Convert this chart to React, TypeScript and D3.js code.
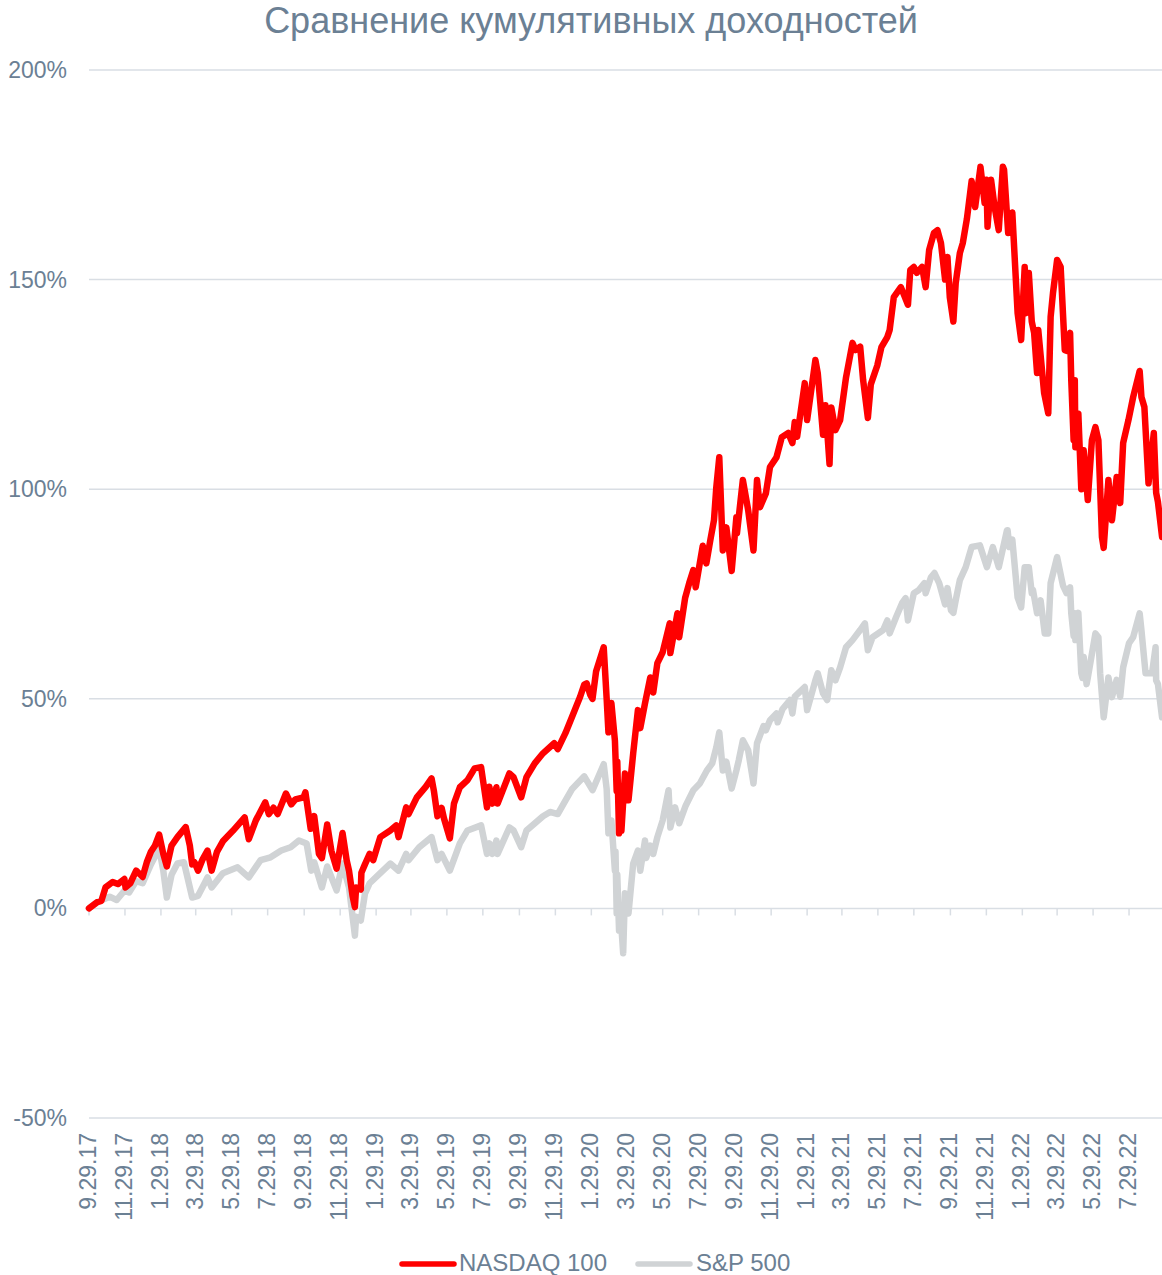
import React from "react";
import * as d3 from "d3";

// ---------- DATA ----------
const TITLE = "Сравнение кумулятивных доходностей";
const SERIES_NAMES = ["NASDAQ 100", "S&P 500"];
const Y_TICKS = [-50, 0, 50, 100, 150, 200];
const X_TICK_LABELS = [
  "9.29.17", "11.29.17", "1.29.18", "3.29.18", "5.29.18", "7.29.18", "9.29.18", "11.29.18",
  "1.29.19", "3.29.19", "5.29.19", "7.29.19", "9.29.19", "11.29.19", "1.29.20", "3.29.20",
  "5.29.20", "7.29.20", "9.29.20", "11.29.20", "1.29.21", "3.29.21", "5.29.21", "7.29.21",
  "9.29.21", "11.29.21", "1.29.22", "3.29.22", "5.29.22", "7.29.22",
];
const X_DOMAIN = ["2017-09-29", "2022-09-29"];

const NDX_DATES = [
  "2017-09-29","2017-10-13","2017-10-20","2017-10-27","2017-11-08","2017-11-17","2017-11-28","2017-11-30",
  "2017-12-08","2017-12-18","2017-12-29","2018-01-05","2018-01-12","2018-01-19","2018-01-26","2018-02-02",
  "2018-02-08","2018-02-16","2018-02-26","2018-03-12","2018-03-19","2018-03-23","2018-03-27","2018-04-02",
  "2018-04-09","2018-04-18","2018-04-25","2018-05-04","2018-05-14","2018-05-31","2018-06-20","2018-06-27",
  "2018-07-09","2018-07-25","2018-07-31","2018-08-08","2018-08-15","2018-08-29","2018-09-07","2018-09-14",
  "2018-09-28","2018-10-01","2018-10-10","2018-10-16","2018-10-24","2018-10-29","2018-11-07","2018-11-14",
  "2018-11-23","2018-12-03","2018-12-10","2018-12-14","2018-12-20","2018-12-24","2018-12-26","2019-01-03",
  "2019-01-04","2019-01-10","2019-01-18","2019-01-24","2019-02-05","2019-02-22","2019-03-04","2019-03-08",
  "2019-03-21","2019-03-25","2019-04-08","2019-04-23","2019-05-03","2019-05-07","2019-05-13","2019-05-20",
  "2019-05-24","2019-06-03","2019-06-10","2019-06-20","2019-07-03","2019-07-15","2019-07-26","2019-08-05",
  "2019-08-09","2019-08-14","2019-08-21","2019-08-23","2019-09-12","2019-09-19","2019-10-02","2019-10-11",
  "2019-10-25","2019-11-08","2019-11-27","2019-12-03","2019-12-16","2019-12-27","2020-01-10","2020-01-17",
  "2020-01-21","2020-01-27","2020-01-31","2020-02-06","2020-02-19","2020-02-24","2020-02-27","2020-03-03",
  "2020-03-09","2020-03-12","2020-03-13","2020-03-16","2020-03-17","2020-03-20","2020-03-26","2020-04-01",
  "2020-04-09","2020-04-17","2020-04-21","2020-04-29","2020-05-08","2020-05-13","2020-05-20","2020-05-29",
  "2020-06-10","2020-06-11","2020-06-23","2020-06-26","2020-07-06","2020-07-13","2020-07-20","2020-07-24",
  "2020-07-31","2020-08-05","2020-08-11","2020-08-18","2020-08-24","2020-08-28","2020-09-02","2020-09-08",
  "2020-09-14","2020-09-23","2020-10-01","2020-10-02","2020-10-12","2020-10-21","2020-10-30","2020-11-05",
  "2020-11-10","2020-11-20","2020-11-27","2020-12-08","2020-12-17","2020-12-28","2021-01-04","2021-01-08",
  "2021-01-12","2021-01-25","2021-01-29","2021-02-12","2021-02-16","2021-02-25","2021-03-01","2021-03-08",
  "2021-03-11","2021-03-18","2021-03-26","2021-04-05","2021-04-16","2021-04-21","2021-04-29","2021-05-04",
  "2021-05-12","2021-05-17","2021-05-28","2021-06-04","2021-06-14","2021-06-18","2021-06-25","2021-07-07",
  "2021-07-19","2021-07-23","2021-07-29","2021-08-03","2021-08-12","2021-08-18","2021-08-24","2021-09-01",
  "2021-09-07","2021-09-13","2021-09-20","2021-09-24","2021-09-28","2021-10-04","2021-10-08","2021-10-15",
  "2021-10-20","2021-10-27","2021-11-04","2021-11-10","2021-11-19","2021-11-26","2021-11-29","2021-12-01",
  "2021-12-07","2021-12-13","2021-12-20","2021-12-27","2021-12-29","2022-01-05","2022-01-12","2022-01-21",
  "2022-01-27","2022-02-02","2022-02-04","2022-02-09","2022-02-14","2022-02-18","2022-02-23","2022-02-25",
  "2022-03-07","2022-03-14","2022-03-18","2022-03-22","2022-03-29","2022-04-04","2022-04-11","2022-04-14",
  "2022-04-20","2022-04-22","2022-04-26","2022-04-28","2022-04-29","2022-05-04","2022-05-09","2022-05-13",
  "2022-05-20","2022-05-27","2022-06-02","2022-06-07","2022-06-13","2022-06-16","2022-06-24","2022-06-30",
  "2022-07-08","2022-07-14","2022-07-19","2022-07-28","2022-08-05","2022-08-16","2022-08-19","2022-08-24",
  "2022-08-31","2022-09-09","2022-09-13","2022-09-16","2022-09-23",
];
const NDX_VALUES = [
  0,1.5,1.8,5.0,6.3,5.8,7.0,5.0,
  6.0,9.0,7.5,11.0,13.5,15.0,17.6,13.0,
  10.0,15.0,17.0,19.4,15.0,10.5,11.0,9.0,
  11.5,13.8,9.0,13.5,16.0,18.5,21.7,16.5,
  21.0,25.3,22.5,24.0,22.5,27.4,24.8,26.0,
  26.5,27.7,19.0,22.0,13.0,12.0,20.0,13.8,
  9.5,18.0,11.5,9.0,3.0,0.3,5.0,4.5,
  8.5,10.5,13.0,11.5,17.0,18.6,19.8,17.0,
  24.1,22.5,26.5,29.0,31.0,28.0,22.0,24.0,
  21.5,16.7,25.0,28.9,30.6,33.4,33.7,24.1,
  29.0,25.0,28.9,25.0,32.2,31.3,26.5,31.3,
  34.6,37.0,39.4,38.0,41.8,45.6,50.5,53.4,
  53.7,51.0,50.0,56.5,62.3,50.0,42.0,49.0,
  40.0,28.0,35.0,17.9,24.0,18.5,32.2,25.8,
  37.0,47.3,43.0,48.9,55.1,51.5,58.5,61.1,
  68.0,60.9,70.4,64.7,74.0,77.6,80.7,76.6,
  82.4,86.5,82.3,88.0,92.6,100.5,107.6,85.4,
  90.9,80.5,93.3,89.5,102.2,95.0,85.4,102.2,
  95.7,99.0,105.3,107.6,112.4,113.4,111.0,116.0,
  112.5,125.3,116.5,130.8,127.7,113.0,120.0,106.0,
  119.5,114.1,116.5,126.7,134.9,133.2,134.0,126.0,
  117.0,125.0,129.5,133.9,136.3,138.0,145.8,148.2,
  144.0,152.3,153.0,151.6,153.0,148.2,157.1,161.1,
  161.8,158.7,150.0,155.4,145.8,140.0,149.2,156.3,
  158.7,164.5,173.5,167.3,176.9,168.3,173.8,162.6,
  173.8,167.3,161.8,176.9,176.2,161.1,166.0,142.0,
  135.6,153.0,142.0,151.6,140.0,137.3,127.7,138.0,
  122.9,118.1,141.1,146.8,154.7,153.0,133.2,133.0,
  137.3,126.0,111.7,126.0,110.0,118.0,100.0,109.3,
  97.4,111.7,114.8,111.7,88.6,86.0,102.2,92.6,
  102.9,96.7,111.0,116.5,122.0,128.2,122.0,119.6,
  101.4,113.4,99.1,97.0,88.6,
];

const SP_DATES = [
  "2017-09-29","2017-10-13","2017-11-03","2017-11-15","2017-11-28","2017-12-06","2017-12-18","2017-12-29",
  "2018-01-12","2018-01-26","2018-02-02","2018-02-08","2018-02-16","2018-02-26","2018-03-09","2018-03-23",
  "2018-04-02","2018-04-13","2018-04-18","2018-04-25","2018-05-14","2018-06-08","2018-06-27","2018-07-17",
  "2018-08-03","2018-08-21","2018-09-06","2018-09-20","2018-10-03","2018-10-11","2018-10-16","2018-10-29",
  "2018-11-07","2018-11-23","2018-12-03","2018-12-14","2018-12-24","2018-12-26","2019-01-03","2019-01-10",
  "2019-01-18","2019-02-05","2019-02-22","2019-03-08","2019-03-21","2019-03-25","2019-04-12","2019-05-03",
  "2019-05-13","2019-05-20","2019-06-03","2019-06-20","2019-07-03","2019-07-26","2019-08-05","2019-08-09",
  "2019-08-14","2019-08-21","2019-08-23","2019-09-12","2019-09-19","2019-10-02","2019-10-11","2019-11-08",
  "2019-11-20","2019-12-03","2019-12-16","2019-12-27","2020-01-17","2020-01-31","2020-02-19","2020-02-24",
  "2020-02-27","2020-03-03","2020-03-09","2020-03-10","2020-03-12","2020-03-13","2020-03-16","2020-03-17",
  "2020-03-20","2020-03-23","2020-03-26","2020-04-01","2020-04-09","2020-04-17","2020-04-21","2020-04-29",
  "2020-05-01","2020-05-08","2020-05-13","2020-05-20","2020-05-29","2020-06-08","2020-06-11","2020-06-19",
  "2020-06-26","2020-07-07","2020-07-20","2020-07-31","2020-08-12","2020-08-21","2020-08-28","2020-09-02",
  "2020-09-08","2020-09-14","2020-09-23","2020-10-01","2020-10-05","2020-10-12","2020-10-21","2020-10-30",
  "2020-11-05","2020-11-16","2020-11-20","2020-11-27","2020-12-08","2020-12-10","2020-12-18","2020-12-31",
  "2021-01-04","2021-01-08","2021-01-25","2021-01-29","2021-02-12","2021-02-16","2021-02-25","2021-03-04",
  "2021-03-11","2021-03-18","2021-03-26","2021-04-05","2021-04-16","2021-04-29","2021-05-07","2021-05-12",
  "2021-05-20","2021-06-07","2021-06-14","2021-06-18","2021-06-29","2021-07-09","2021-07-15","2021-07-19",
  "2021-07-29","2021-08-06","2021-08-16","2021-08-18","2021-08-27","2021-09-02","2021-09-10","2021-09-20",
  "2021-09-24","2021-09-30","2021-10-04","2021-10-08","2021-10-15","2021-10-25","2021-11-04","2021-11-18",
  "2021-11-30","2021-12-10","2021-12-20","2022-01-03","2022-01-04","2022-01-07","2022-01-12","2022-01-21",
  "2022-01-27","2022-02-02","2022-02-09","2022-02-14","2022-02-16","2022-02-23","2022-03-01","2022-03-08",
  "2022-03-14","2022-03-18","2022-03-29","2022-04-06","2022-04-08","2022-04-14","2022-04-20","2022-04-22",
  "2022-04-26","2022-04-28","2022-04-29","2022-05-04","2022-05-09","2022-05-11","2022-05-13","2022-05-18",
  "2022-05-20","2022-06-02","2022-06-07","2022-06-10","2022-06-16","2022-06-24","2022-06-30","2022-07-08",
  "2022-07-14","2022-07-19","2022-07-29","2022-08-05","2022-08-16","2022-08-19","2022-08-26","2022-09-06",
  "2022-09-12","2022-09-13","2022-09-16","2022-09-23",
];
const SP_VALUES = [
  0,1.5,2.8,2.0,4.2,3.8,6.5,6.0,
  10.5,14.3,9.0,2.6,8.0,10.7,11.0,2.6,
  3.0,6.0,7.4,5.0,8.4,9.8,7.4,11.5,
  12.2,13.8,14.6,16.2,15.5,9.0,11.0,5.0,
  10.0,4.3,10.7,5.0,-6.5,-2.0,-2.9,3.5,
  6.0,8.4,10.7,9.0,13.0,11.5,14.6,17.0,
  11.5,13.0,9.0,15.5,18.6,19.8,13.0,15.5,
  13.0,16.2,13.0,19.3,18.6,14.6,18.6,22.0,
  23.0,22.5,25.7,28.4,31.5,28.2,34.4,28.5,
  17.9,21.0,9.0,13.5,-1.2,8.0,-5.3,0.5,
  -4.5,-10.7,3.6,-1.2,10.7,13.8,9.0,16.2,
  12.0,15.0,13.0,17.0,21.0,28.2,19.3,24.1,
  20.3,24.5,28.2,29.8,32.9,34.6,38.4,42.0,
  32.9,35.0,28.6,32.9,35.3,40.1,37.7,29.8,
  39.4,43.5,42.5,44.9,46.5,44.4,47.5,49.7,
  46.5,50.5,52.8,47.3,54.4,56.1,51.3,49.7,
  56.8,54.4,57.5,62.3,64.0,66.4,68.0,61.6,
  64.7,66.4,68.7,65.6,69.5,72.8,74.0,68.7,
  75.2,75.9,77.6,75.2,79.0,80.0,77.6,72.5,
  76.4,71.1,70.5,73.5,78.3,81.4,86.2,86.6,
  81.4,86.2,81.4,90.2,90.2,86.2,88.0,74.2,
  71.8,81.4,81.4,75.2,76.0,70.4,73.5,65.6,
  65.6,77.6,83.8,78.3,77.0,75.2,76.6,70.4,
  65.0,70.4,64.0,70.5,56.1,55.0,60.0,53.5,
  55.0,65.6,64.7,56.1,45.6,55.1,50.4,54.5,
  50.5,57.5,63.3,64.7,70.4,66.4,56.1,56.1,
  62.3,54.4,53.5,45.6,
];

// ---------- STYLE ----------
const W = 1162;
const H = 1275;
const PLOT_LEFT = 89;
const PLOT_RIGHT = 1165.6;
const PLOT_TOP = 70;
const PLOT_BOTTOM = 1118;
const TEXT_COLOR = "#6b8094";
const GRID_COLOR = "#d9dee4";
const RED = "#ff0000";
const GRAY = "#d0d3d5";
const FONT = "'Liberation Sans', Arial, sans-serif";

const parse = d3.timeParse("%Y-%m-%d");

export default function App() {
  const x = d3
    .scaleTime()
    .domain(X_DOMAIN.map((d) => parse(d) as Date))
    .range([PLOT_LEFT, PLOT_RIGHT]);
  const y = d3.scaleLinear().domain([-50, 200]).range([PLOT_BOTTOM, PLOT_TOP]);

  const ndx = NDX_DATES.map((d, i) => ({ date: parse(d) as Date, v: NDX_VALUES[i] }));
  const sp = SP_DATES.map((d, i) => ({ date: parse(d) as Date, v: SP_VALUES[i] }));

  const line = d3
    .line<{ date: Date; v: number }>()
    .x((d) => x(d.date))
    .y((d) => y(d.v));

  const tickDates = X_TICK_LABELS.map((s) => {
    const [m, dd, yy] = s.split(".");
    return new Date(2000 + +yy, +m - 1, +dd);
  });

  const y0 = y(0);

  return (
    <svg
      width={W}
      height={H}
      style={{ position: "absolute", left: 0, top: 0, background: "#fff" }}
      fontFamily={FONT}
    >
      <text x={591} y={33} textAnchor="middle" fontSize={36} fill={TEXT_COLOR}>
        {TITLE}
      </text>

      {Y_TICKS.map((t) => (
        <g key={t}>
          <line x1={PLOT_LEFT} x2={W} y1={y(t)} y2={y(t)} stroke={GRID_COLOR} strokeWidth={1.5} />
          <text
            x={67}
            y={y(t)}
            dy="0.35em"
            textAnchor="end"
            fontSize={23}
            fill={TEXT_COLOR}
          >
            {t + "%"}
          </text>
        </g>
      ))}

      {tickDates.map((d, i) => (
        <g key={i}>
          <line x1={x(d)} x2={x(d)} y1={y0} y2={y0 + 7} stroke={GRID_COLOR} strokeWidth={1.5} />
          <text
            transform={`translate(${x(d) - 1},${1133}) rotate(-90)`}
            textAnchor="end"
            dy="0.35em"
            fontSize={23}
            fill={TEXT_COLOR}
          >
            {X_TICK_LABELS[i]}
          </text>
        </g>
      ))}

      <path d={line(sp) || ""} fill="none" stroke={GRAY} strokeWidth={6.5} strokeLinejoin="round" strokeLinecap="round" />
      <path d={line(ndx) || ""} fill="none" stroke={RED} strokeWidth={6.5} strokeLinejoin="round" strokeLinecap="round" />

      <g>
        <line x1={402} x2={454} y1={1264} y2={1264} stroke={RED} strokeWidth={5.5} strokeLinecap="round" />
        <text x={459} y={1271} fontSize={24} fill={TEXT_COLOR}>{SERIES_NAMES[0]}</text>
        <line x1={638} x2={690} y1={1264} y2={1264} stroke={GRAY} strokeWidth={5.5} strokeLinecap="round" />
        <text x={696} y={1271} fontSize={24} fill={TEXT_COLOR}>{SERIES_NAMES[1]}</text>
      </g>
    </svg>
  );
}
